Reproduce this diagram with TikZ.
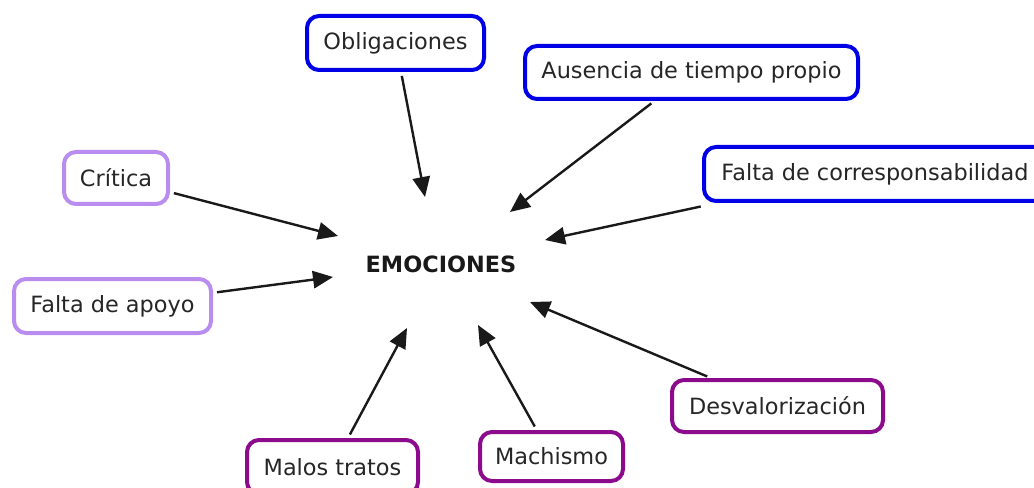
\documentclass[tikz,border=0pt]{standalone}
\usepackage{fontspec}
\setmainfont{DejaVu Sans}
\usetikzlibrary{arrows.meta}
\definecolor{cblue}{RGB}{0,0,230}
\definecolor{clight}{RGB}{185,140,240}
\definecolor{cdark}{RGB}{140,10,140}
\tikzset{
  box/.style={draw, line width=3pt, rounded corners=9pt, fill=white, inner sep=0pt,
    font=\fontsize{16.8}{20}\selectfont, text=black!85},
  bluebox/.style={box, draw=cblue},
  lightbox/.style={box, draw=clight},
  darkbox/.style={box, draw=cdark},
  arr/.style={line width=1.8pt, black!90, shorten <=3pt,
    -{Triangle[length=15pt, width=13pt]}},
}
\begin{document}
\begin{tikzpicture}[x=0.75pt, y=-0.75pt]
\useasboundingbox (0,0) rectangle (1034,488);
\begin{scope}
\clip (0,0) rectangle (1034,488);
\node[bluebox, minimum width=132.75pt, minimum height=40.5pt] (obl) at (395.5,43) {Obligaciones};
\node[bluebox, minimum width=249.75pt, minimum height=39.75pt] (aus) at (691.5,72.5) {Ausencia de tiempo propio};
\node[bluebox, minimum width=256.5pt, minimum height=40.5pt] (fc) at (875,174) {Falta de corresponsabilidad};
\node[lightbox, minimum width=78pt, minimum height=39pt] (cri) at (116,178) {Crítica};
\node[lightbox, minimum width=147.75pt, minimum height=40.5pt] (apo) at (112.5,306) {Falta de apoyo};
\node[darkbox, minimum width=128.25pt, minimum height=40.5pt] (mal) at (332.5,467) {Malos tratos};
\node[darkbox, minimum width=107.25pt, minimum height=36.75pt] (mac) at (551.5,456.5) {Machismo};
\node[darkbox, minimum width=158.25pt, minimum height=39pt] (des) at (777.5,406) {Desvalorización};
\end{scope}
\node[font=\bfseries\fontsize{16.8}{20}\selectfont, text=black!90] (emo) at (441,264) {EMOCIONES};

\coordinate (tObl) at (425,197);
\coordinate (tAus) at (510,212);
\coordinate (tFc) at (545,240);
\coordinate (tCri) at (338,236);
\coordinate (tApo) at (333,277);
\coordinate (tDes) at (530,302);
\coordinate (tMal) at (407,328);
\coordinate (tMac) at (478,325);

\draw[arr] (obl) -- (tObl);
\draw[arr] (aus) -- (tAus);
\draw[arr] ([xshift=2pt,yshift=-2pt]fc.south west) -- (tFc);
\draw[arr] (cri) -- (tCri);
\draw[arr] (apo) -- (tApo);
\draw[arr] (des) -- (tDes);
\draw[arr] (mal) -- (tMal);
\draw[arr] (mac) -- (tMac);
\end{tikzpicture}
\end{document}
